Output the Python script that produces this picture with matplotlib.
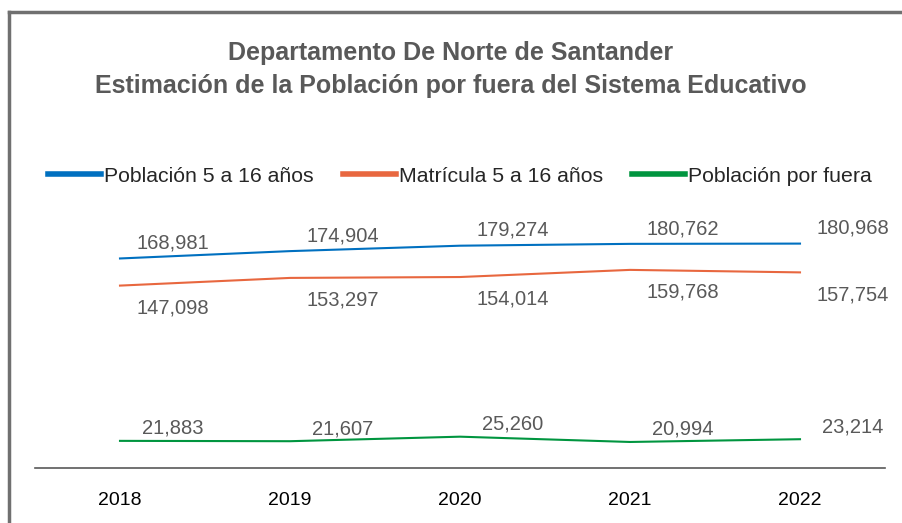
import numpy as np
import matplotlib as mpl
mpl.use('Agg')
from matplotlib import pyplot as plt
from matplotlib.lines import Line2D

years = ['2018', '2019', '2020', '2021', '2022']
poblacion = [168981, 174904, 179274, 180762, 180968]
matricula = [147098, 153297, 154014, 159768, 157754]
por_fuera = [21883, 21607, 25260, 20994, 23214]

names = ['Población 5 a 16 años', 'Matrícula 5 a 16 años', 'Población por fuera']
colors = ['#0070C0', '#E8673F', '#00953F']

plt.rcParams['font.family'] = ['Liberation Sans', 'DejaVu Sans']

W, H = 902, 523
fig = plt.figure(figsize=(W / 100, H / 100), dpi=100)
ax = fig.add_axes([35 / W, 1 - 468 / H, 850 / W, 248 / H])

x = np.arange(len(years))
series = [poblacion, matricula, por_fuera]
offsets = [(38, 11), (38, -16), (38, 9)]
for vals, name, col, off in zip(series, names, colors, offsets):
    ax.plot(x, vals, color=col, lw=1.5, label=name)
    for xi, v in zip(x, vals):
        ax.annotate(f'{v:,}', (xi, v), xytext=off, textcoords='offset points',
                    ha='center', va='center', fontsize=14.5, color='#595959')

ax.set_xlim(-0.5, 4.5)
ax.set_ylim(0, 200000)
ax.set_yticks([])
ax.set_xticks(x)
ax.set_xticklabels(years, fontsize=14, color='black')
ax.tick_params(axis='x', length=0, pad=17)
for s in ['top', 'right', 'left']:
    ax.spines[s].set_visible(False)
ax.spines['bottom'].set_color('#595959')
ax.spines['bottom'].set_linewidth(1.2)

fig.text(451 / W, 1 - 53 / H, 'Departamento De Norte de Santander',
         ha='center', va='center', fontsize=18, fontweight='bold', color='#595959')
fig.text(451 / W, 1 - 86 / H, 'Estimación de la Población por fuera del Sistema Educativo',
         ha='center', va='center', fontsize=18, fontweight='bold', color='#595959')

leg = fig.legend(loc='center', bbox_to_anchor=(460 / W, 1 - 176 / H), ncol=3,
                 frameon=False, fontsize=15.3, handlelength=2.5, handletextpad=0.15,
                 columnspacing=1.35)
for h in leg.get_lines():
    h.set_linewidth(4)
for t in leg.get_texts():
    t.set_color('#262626')

# gray frame around the chart
fig.add_artist(Line2D([8.5 / W, 8.5 / W], [0, 1 - 11.5 / H], color='#707070', lw=2.5))
fig.add_artist(Line2D([8.5 / W, 1], [1 - 11.5 / H, 1 - 11.5 / H], color='#707070', lw=2.5))

fig.savefig('out.png', dpi=100)
